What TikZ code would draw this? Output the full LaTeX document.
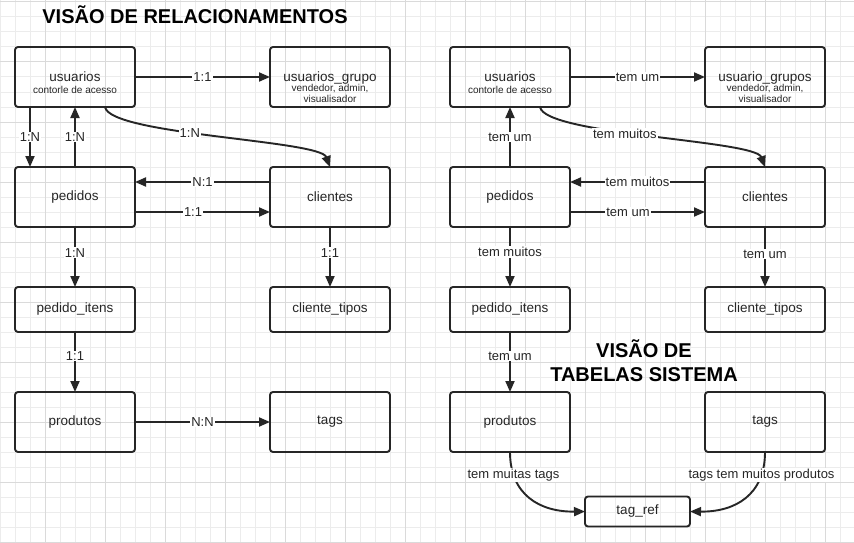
\documentclass[tikz,border=0pt]{standalone}
\usepackage{fontspec}
\setmainfont{Liberation Sans}
\usetikzlibrary{positioning,arrows.meta}

\definecolor{traco}{HTML}{262626}
\definecolor{gradefina}{HTML}{ECECEC}
\definecolor{gradegrossa}{HTML}{DADADA}

\tikzset{
  tabela/.style={draw=traco, line width=1.9pt, rounded corners=3pt, outer sep=0pt,
    minimum width=120pt, minimum height=60pt, inner sep=2pt, align=center,
    text=black!85, font=\fontsize{13.5}{14}\selectfont},
  baixa/.style={tabela, minimum height=45pt},
  liga/.style={draw=traco, line width=1.9pt, -{Triangle[length=11pt,width=9pt]}},
  rotulo/.style={fill=white, inner sep=1pt, text=traco, font=\fontsize{13}{15}\selectfont},
  titulo/.style={font=\bfseries\fontsize{20}{24}\selectfont, align=center},
}
\newcommand{\miudo}{\fontsize{10}{11}\selectfont}

\begin{document}
\begin{tikzpicture}[x=1pt, y=1pt]
  \useasboundingbox[fill=white] (0,0) rectangle (854,-543);
  % grade de fundo
  \foreach \x in {0,15,...,854} \draw[gradefina, line width=1pt] (\x,0) -- (\x,-543);
  \foreach \y in {2,17,...,542} \draw[gradefina, line width=1pt] (0,-\y) -- (854,-\y);
  \foreach \x in {45,105,...,854} \draw[gradegrossa, line width=1pt] (\x,0) -- (\x,-543);
  \foreach \y in {2,62,...,542} \draw[gradegrossa, line width=1pt] (0,-\y) -- (854,-\y);

  \node[titulo] (titulo1) at (195,-15) {VISÃO DE RELACIONAMENTOS};
  \node[titulo] (titulo2) at (644,-361) {VISÃO DE\\TABELAS SISTEMA};

  % visao de relacionamentos
  \node[tabela] (usuarios) at (75,-77) {\rule{0pt}{22pt}usuarios\\[-2pt]\miudo contorle de acesso};
  \node[tabela, right=135pt of usuarios] (grupo) {\rule{0pt}{30pt}usuarios\_grupo\\[-4pt]\miudo vendedor, admin,\\[-3pt]\miudo visualisador};
  \node[tabela, below=60pt of usuarios] (pedidos) {pedidos};
  \node[tabela, below=60pt of grupo] (clientes) {clientes};
  \node[baixa, below=60pt of pedidos] (itens) {pedido\_itens};
  \node[baixa, below=60pt of clientes] (tipos) {cliente\_tipos};
  \node[tabela, below=60pt of itens] (produtos) {produtos};
  \node[tabela, below=60pt of tipos] (tags) {tags};

  \draw[liga] (usuarios) -- node[rotulo]{1:1} (grupo);
  \draw[liga] ([xshift=-45pt]usuarios.south) -- node[rotulo]{1:N} ([xshift=-45pt]pedidos.north);
  \draw[liga] (pedidos) -- node[rotulo]{1:N} (usuarios);
  \draw[liga] ([xshift=30pt]usuarios.south) .. controls (110,-135) and (320,-140) .. node[rotulo, pos=0.42]{1:N} (clientes.north);
  \draw[liga] ([yshift=15pt]clientes.west) -- node[rotulo]{N:1} ([yshift=15pt]pedidos.east);
  \draw[liga] ([yshift=-15pt]pedidos.east) -- node[rotulo, pos=0.43]{1:1} ([yshift=-15pt]clientes.west);
  \draw[liga] (pedidos) -- node[rotulo, pos=0.43]{1:N} (itens);
  \draw[liga] (clientes) -- node[rotulo, pos=0.43]{1:1} (tipos);
  \draw[liga] (itens) -- node[rotulo, pos=0.4]{1:1} (produtos);
  \draw[liga] (produtos) -- node[rotulo]{N:N} (tags);

  % visao de tabelas sistema
  \node[tabela] (tusuarios) at (510,-77) {\rule{0pt}{22pt}usuarios\\[-2pt]\miudo contorle de acesso};
  \node[tabela, right=135pt of tusuarios] (tgrupos) {\rule{0pt}{30pt}usuario\_grupos\\[-4pt]\miudo vendedor, admin,\\[-3pt]\miudo visualisador};
  \node[tabela, below=60pt of tusuarios] (tpedidos) {pedidos};
  \node[tabela, below=60pt of tgrupos] (tclientes) {clientes};
  \node[baixa, below=60pt of tpedidos] (titens) {pedido\_itens};
  \node[baixa, below=60pt of tclientes] (ttipos) {cliente\_tipos};
  \node[tabela, below=60pt of titens] (tprodutos) {produtos};
  \node[tabela, below=60pt of ttipos] (ttags) {tags};
  \node[tabela, minimum width=105pt, minimum height=30pt] (tagref) at (637.5,-511.5) {tag\_ref};

  \draw[liga] (tusuarios) -- node[rotulo]{tem um} (tgrupos);
  \draw[liga] (tpedidos) -- node[rotulo]{tem um} (tusuarios);
  \draw[liga] ([xshift=30pt]tusuarios.south) .. controls (545,-135) and (755,-140) .. node[rotulo, pos=0.42]{tem muitos} (tclientes.north);
  \draw[liga] ([yshift=15pt]tclientes.west) -- node[rotulo]{tem muitos} ([yshift=15pt]tpedidos.east);
  \draw[liga] ([yshift=-15pt]tpedidos.east) -- node[rotulo, pos=0.43]{tem um} ([yshift=-15pt]tclientes.west);
  \draw[liga] (tpedidos) -- node[rotulo, pos=0.42]{tem muitos} (titens);
  \draw[liga] (tclientes) -- node[rotulo, pos=0.45]{tem um} (ttipos);
  \draw[liga] (titens) -- node[rotulo, pos=0.4]{tem um} (tprodutos);
  \draw[liga] (tprodutos.south) .. controls (510,-495) and (540,-512) .. node[rotulo, pos=0.2]{tem muitas tags} (tagref.west);
  \draw[liga] (ttags.south) .. controls (765,-495) and (735,-512) .. node[rotulo, pos=0.2]{tags tem muitos produtos} (tagref.east);
\end{tikzpicture}
\end{document}
